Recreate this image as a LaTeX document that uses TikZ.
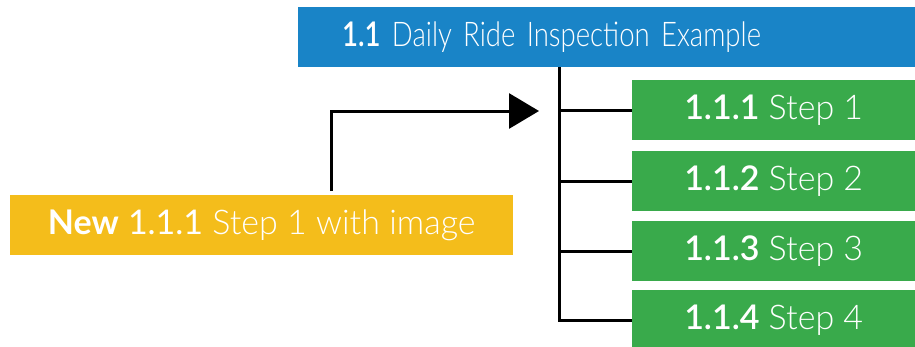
\documentclass[tikz,border=0pt]{standalone}
\usepackage{fontspec}
\setmainfont{Lato}[UprightFont=* Light, BoldFont=* Semibold]
\newfontface\regw{Lato}
\newfontface\heavyw{Lato Bold}
\usetikzlibrary{arrows.meta,calc}
\definecolor{hblue}{RGB}{25,132,199}
\definecolor{hgreen}{RGB}{57,170,75}
\definecolor{hyellow}{RGB}{244,189,27}
\begin{document}
\begin{tikzpicture}[x=1pt,y=-1pt,
  box/.style={inner sep=0pt, minimum height=60pt, text=white, anchor=north west,
    font=\fontsize{34}{40}\selectfont},
  stepbox/.style={box, fill=hgreen, minimum width=283pt},
  conn/.style={line width=3pt, black},
  ]
\useasboundingbox (0,0) rectangle (915,346);
\node[box, fill=hblue, minimum width=617pt, text width=529pt, inner xsep=44pt, align=left,
  font=\fontsize{34}{40}\selectfont\addfontfeatures{FakeStretch=0.81}] (top) at (298,7) {\textbf{1.1} Daily Ride Inspection Example};
\node[stepbox] (s1) at (632,80) {\textbf{1.1.1} Step 1};
\node[stepbox] (s2) at (632,151) {\textbf{1.1.2} Step 2};
\node[stepbox] (s3) at (632,221) {\textbf{1.1.3} Step 3};
\node[stepbox] (s4) at (632,290) {\textbf{1.1.4} Step 4};
\node[box, fill=hyellow, minimum width=503pt] (new) at (10,195) {{\heavyw New} {\regw 1.1.1} Step 1 with image};
\coordinate (trunk) at (559,67);
\coordinate (bend) at (331,111);
\coordinate (tip) at (539,111);
\draw[conn] (trunk) |- (s4.west);
\draw[conn] (trunk |- s1.west) -- (s1.west);
\draw[conn] (trunk |- s2.west) -- (s2.west);
\draw[conn] (trunk |- s3.west) -- (s3.west);
\draw[conn, -{Triangle[length=30pt,width=35pt]}] ($(new.north -| bend)+(0,-4)$) -- (bend) -- (tip);
\end{tikzpicture}
\end{document}
